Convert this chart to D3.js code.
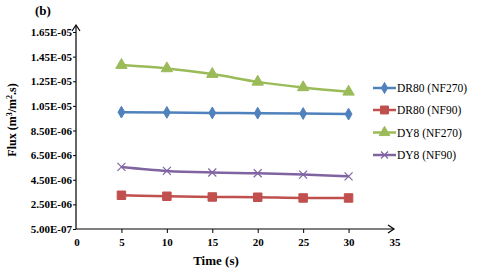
<!DOCTYPE html>
<html><head><meta charset="utf-8">
<script src="https://cdn.jsdelivr.net/npm/d3@7"></script>
<style>body{margin:0;background:#fff}svg{display:block}</style>
</head><body>
<svg id="c" width="480" height="272"></svg>
<script>
const times = [5, 10, 15, 20, 25, 30];
const seriesNames = ["DR80 (NF270)", "DR80 (NF90)", "DY8 (NF270)", "DY8 (NF90)"];
const dr80nf270 = [9.99e-6, 9.97e-6, 9.93e-6, 9.91e-6, 9.88e-6, 9.83e-6];
const dr80nf90 = [3.24e-6, 3.16e-6, 3.10e-6, 3.08e-6, 3.02e-6, 3.02e-6];
const dy8nf270 = [1.381e-5, 1.354e-5, 1.308e-5, 1.245e-5, 1.200e-5, 1.164e-5];
const dy8nf90 = [5.54e-6, 5.22e-6, 5.09e-6, 5.03e-6, 4.92e-6, 4.78e-6];
const yTicks = [5.0e-7, 2.5e-6, 4.5e-6, 6.5e-6, 8.5e-6, 1.05e-5, 1.25e-5, 1.45e-5, 1.65e-5];
const yTickLabels = ["5.00E-07","2.50E-06","4.50E-06","6.50E-06","8.50E-06","1.05E-05","1.25E-05","1.45E-05","1.65E-05"];
const xTicks = [0, 5, 10, 15, 20, 25, 30, 35];
const colors = ["#4F81BD", "#C0504D", "#9BBB59", "#8064A2"];
const markers = ["diamond", "square", "triangle", "x"];
const allSeries = [dr80nf270, dr80nf90, dy8nf270, dy8nf90];

const svg = d3.select("#c");
const font = "'Liberation Serif', 'Times New Roman', serif";
const x = d3.scaleLinear().domain([0, 35]).range([76, 394]);
const y = d3.scaleLinear().domain([5.0e-7, 1.65e-5]).range([229, 32]);

// axes
const xAxis = svg.append("g").attr("transform", "translate(0,229)")
  .call(d3.axisBottom(x).tickValues(xTicks.filter(t => t > 0 && t < 35)).tickSize(4).tickFormat(d3.format("d")));
xAxis.select(".domain").remove();
xAxis.selectAll("line").attr("stroke", "#000");
xAxis.selectAll("text").attr("font-family", font).attr("font-weight", "bold").attr("font-size", 11).attr("dy", "0.95em").attr("fill", "#000");
svg.selectAll(".xend").data([0, 35]).enter().append("text")
  .attr("x", d => x(d) + 1).attr("y", 246).attr("text-anchor", "middle")
  .attr("font-family", font).attr("font-weight", "bold").attr("font-size", 11).text(d => d);

const yAxis = svg.append("g").attr("transform", "translate(76,0)")
  .call(d3.axisLeft(y).tickValues(yTicks).tickSize(3).tickFormat((d, i) => yTickLabels[i]));
yAxis.select(".domain").remove();
yAxis.selectAll("line").attr("stroke", "#000");
yAxis.selectAll("text").attr("font-family", font).attr("font-weight", "bold").attr("font-size", 11).attr("fill", "#000").attr("x", -4);

// axis lines with arrows
svg.append("line").attr("x1", 76).attr("x2", 76).attr("y1", 229).attr("y2", 26).attr("stroke", "#000").attr("stroke-width", 1.2);
svg.append("path").attr("d", "M72,31 L76,25 L80,31").attr("fill", "none").attr("stroke", "#000").attr("stroke-width", 1.2);
svg.append("line").attr("x1", 76).attr("x2", 394).attr("y1", 229).attr("y2", 229).attr("stroke", "#000").attr("stroke-width", 1.2);
svg.append("path").attr("d", "M388,225 L394,229 L388,233").attr("fill", "none").attr("stroke", "#000").attr("stroke-width", 1.2);

function drawMarker(g, type, color, size) {
  if (type === "diamond") {
    g.append("path").attr("d", d3.symbol(d3.symbolDiamond, size * 5)()).attr("fill", color).attr("stroke", color);
  } else if (type === "square") {
    g.append("path").attr("d", d3.symbol(d3.symbolSquare, size * 9)()).attr("fill", color).attr("stroke", color);
  } else if (type === "triangle") {
    g.append("path").attr("d", d3.symbol(d3.symbolTriangle, size * 7)()).attr("fill", color).attr("stroke", color);
  } else {
    g.append("path").attr("d", `M${-size/2},${-size/2}L${size/2},${size/2}M${-size/2},${size/2}L${size/2},${-size/2}`).attr("stroke", color).attr("stroke-width", 1.2).attr("fill", "none");
  }
}

const line = d3.line().x((d, i) => x(times[i])).y(d => y(d)).curve(d3.curveMonotoneX);
allSeries.forEach((vals, si) => {
  svg.append("path").datum(vals).attr("d", line).attr("fill", "none")
    .attr("stroke", colors[si]).attr("stroke-width", 2.5);
  vals.forEach((v, i) => {
    const g = svg.append("g").attr("transform", `translate(${x(times[i])},${y(v)})`);
    drawMarker(g, markers[si], colors[si], 8);
  });
});

// legend
const legY = [88, 110, 132.5, 155];
seriesNames.forEach((n, i) => {
  svg.append("line").attr("x1", 373).attr("x2", 396).attr("y1", legY[i]).attr("y2", legY[i])
    .attr("stroke", colors[i]).attr("stroke-width", 2.5);
  const g = svg.append("g").attr("transform", `translate(384.5,${legY[i]})`);
  drawMarker(g, markers[i], colors[i], 7);
  svg.append("text").attr("x", 397).attr("y", legY[i]).attr("dy", "0.35em")
    .attr("font-family", font).attr("font-size", 11.5).attr("fill", "#000").text(n);
});

// titles
svg.append("text").attr("x", 35).attr("y", 15).attr("font-family", font).attr("font-weight", "bold").attr("font-size", 13).text("(b)");
svg.append("text").attr("x", 216).attr("y", 265).attr("text-anchor", "middle").attr("font-family", font).attr("font-weight", "bold").attr("font-size", 13).text("Time (s)");
const yl = svg.append("text").attr("transform", "translate(16,120) rotate(-90)").attr("text-anchor", "middle")
  .attr("font-family", font).attr("font-weight", "bold").attr("font-size", 12);
yl.append("tspan").text("Flux (m");
yl.append("tspan").attr("baseline-shift", "super").attr("font-size", 8).text("3");
yl.append("tspan").text("/m");
yl.append("tspan").attr("baseline-shift", "super").attr("font-size", 8).text("2");
yl.append("tspan").text(".s)");
</script>
</body></html>
